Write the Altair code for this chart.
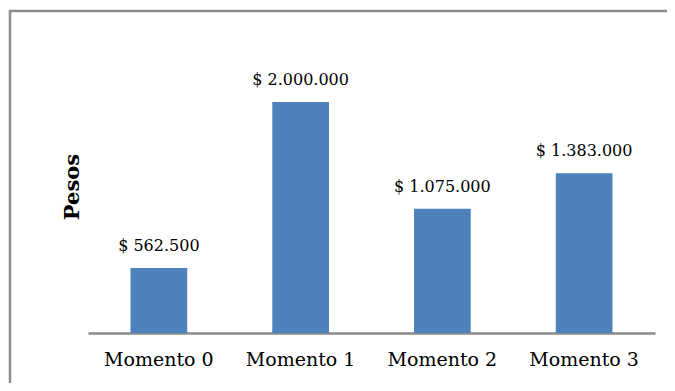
import altair as alt
import pandas as pd

categories = ["Momento 0", "Momento 1", "Momento 2", "Momento 3"]
values = [562500, 2000000, 1075000, 1383000]
value_labels = ["$ 562.500", "$ 2.000.000", "$ 1.075.000", "$ 1.383.000"]
title_text = "Momento de evaluación"
y_title = "Pesos"

df = pd.DataFrame({"cat": categories, "val": values, "lab": value_labels})

x_enc = alt.X("cat:N", sort=categories, title=None,
              scale=alt.Scale(paddingInner=0.6, paddingOuter=0.3),
              axis=alt.Axis(labelFont="DejaVu Serif", labelFontSize=19, labelColor="#000000",
                            labelAngle=0, ticks=False, domainColor="#8a8a8a", domainWidth=2.5,
                            labelPadding=17, labelBaseline="top"))
y_enc = alt.Y("val:Q", title=y_title,
              scale=alt.Scale(domain=[0, 2536800], nice=False, zero=True),
              axis=alt.Axis(labels=False, ticks=False, domain=False, grid=False,
                            titleFont="DejaVu Serif", titleFontSize=21, titleFontWeight="bold",
                            titleColor="#000000", titlePadding=6))

base = alt.Chart(df)
bars = base.mark_bar(color="#4f81bd").encode(x=x_enc, y=y_enc)
labels = base.mark_text(font="DejaVu Serif", fontSize=16, color="#000000",
                        baseline="alphabetic", dy=-17).encode(
    x=alt.X("cat:N", sort=categories), y=alt.Y("val:Q"), text="lab:N")

frame_df = pd.DataFrame({"t": [title_text]})
frame = alt.Chart(frame_df).mark_rect(fill=None, stroke="#8c8c8c", strokeWidth=2.5, clip=False).encode(
    x=alt.value(-78), x2=alt.value(700), y=alt.value(-29), y2=alt.value(400))
title = alt.Chart(frame_df).mark_text(font="Liberation Sans", fontSize=24, fontWeight="bold",
                                      color="#000000", baseline="alphabetic", clip=False).encode(
    x=alt.value(250), y=alt.value(-36), text="t:N")

chart = alt.layer(frame, bars, labels, title).properties(
    width=567, height=293,
    background="#ffffff",
    autosize=alt.AutoSizeParams(type="none"),
    padding={"left": 80, "top": 32, "right": 12, "bottom": 50},
).configure_view(strokeWidth=0)

chart.save("out.html", embed_options={"renderer": "svg", "actions": False})
